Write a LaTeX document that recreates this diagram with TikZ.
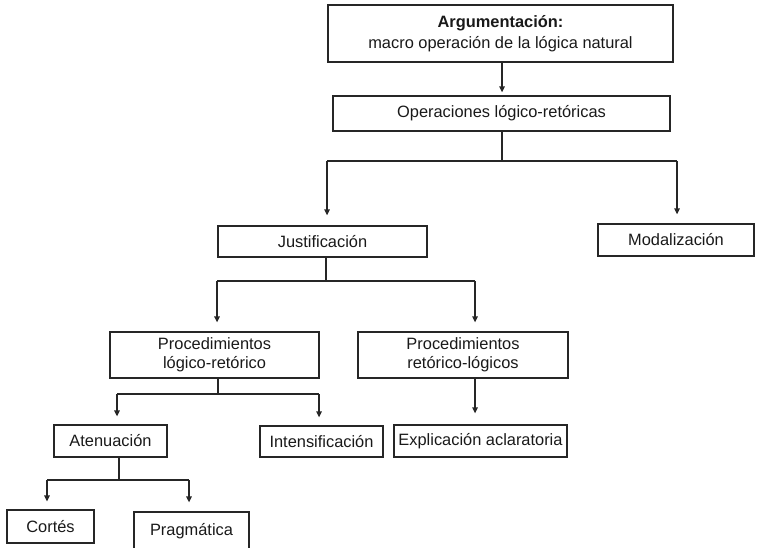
\documentclass[tikz,border=0pt]{standalone}
\usepackage{fontspec}
\setmainfont{Liberation Sans}
\usetikzlibrary{arrows.meta}
\tikzset{
  box/.style={draw=black!85, line width=1.3pt, inner sep=0pt, align=center,
    font=\fontsize{16.4}{18.5}\selectfont, text=black!90},
  conn/.style={draw=black!85, line width=1.3pt},
  arr/.style={conn, -{Triangle[length=6pt,width=5.5pt]}},
}
\begin{document}
\begin{tikzpicture}[x=1pt,y=-1pt]
\useasboundingbox (0,0) rectangle (757,547);
\clip (0,0) rectangle (757,547);
% boxes
\node[box, minimum width=345pt, minimum height=57pt] (top) at (500.5,33.5)
  {\textbf{Argumentación:}\\[2.5pt]macro operación de la lógica natural};
\node[box, minimum width=337pt, minimum height=35pt] (ops) at (501.5,113.5) {Operaciones lógico-retóricas};
\node[box, minimum width=209pt, minimum height=31pt] (just) at (322.5,241.5) {Justificación};
\node[box, minimum width=156pt, minimum height=32pt] (modal) at (676,240) {Modalización};
\node[box, minimum width=209pt, minimum height=46pt] (procL) at (214.5,355) {Procedimientos\\lógico-retórico};
\node[box, minimum width=210pt, minimum height=46pt] (procR) at (463,355) {Procedimientos\\retórico-lógicos};
\node[box, minimum width=113pt, minimum height=32pt] (aten) at (110.5,441) {Atenuación};
\node[box, minimum width=123pt, minimum height=31pt] (inten) at (321.5,441.5) {Intensificación};
\node[box, minimum width=173pt, minimum height=32pt] (expl) at (480.5,441) {Explicación aclaratoria};
\node[box, minimum width=87pt, minimum height=33pt] (cortes) at (50.5,526.5) {Cortés};
\node[box, minimum width=115pt, minimum height=38pt] (prag) at (191.5,531) {Pragmática};
% top -> ops
\coordinate (t0) at (502,62);
\draw[arr, shorten >=3pt] (t0) -- (t0 |- ops.north);
% ops -> just / modal
\coordinate (b1) at (502,161);
\coordinate (b1l) at (327,161);
\coordinate (b1r) at (677,161);
\draw[conn] (b1 |- ops.south) -- (b1);
\draw[conn] (b1l) -- (b1r);
\draw[arr, shorten >=10pt] (b1l) -- (b1l |- just.north);
\draw[arr, shorten >=9pt] (b1r) -- (b1r |- modal.north);
% just -> procL / procR
\coordinate (b2) at (326,281);
\coordinate (b2l) at (217,281);
\coordinate (b2r) at (475,281);
\draw[conn] (b2 |- just.south) -- (b2);
\draw[conn] (b2l) -- (b2r);
\draw[arr, shorten >=9pt] (b2l) -- (b2l |- procL.north);
\draw[arr, shorten >=9pt] (b2r) -- (b2r |- procR.north);
% procL -> aten / inten
\coordinate (b3) at (218,394);
\coordinate (b3l) at (117,394);
\coordinate (b3r) at (319,394);
\draw[conn] (b3 |- procL.south) -- (b3);
\draw[conn] (b3l) -- (b3r);
\draw[arr, shorten >=8pt] (b3l) -- (b3l |- aten.north);
\draw[arr, shorten >=8pt] (b3r) -- (b3r |- inten.north);
% procR -> expl
\coordinate (b4) at (475,378);
\draw[arr, shorten >=11pt] (b4 |- procR.south) -- (b4 |- expl.north);
% aten -> cortes / prag
\coordinate (b5) at (119,480);
\coordinate (b5l) at (47,480);
\coordinate (b5r) at (189,480);
\draw[conn] (b5 |- aten.south) -- (b5);
\draw[conn] (b5l) -- (b5r);
\draw[arr, shorten >=8pt] (b5l) -- (b5l |- cortes.north);
\draw[arr, shorten >=9pt] (b5r) -- (b5r |- prag.north);
\end{tikzpicture}
\end{document}
